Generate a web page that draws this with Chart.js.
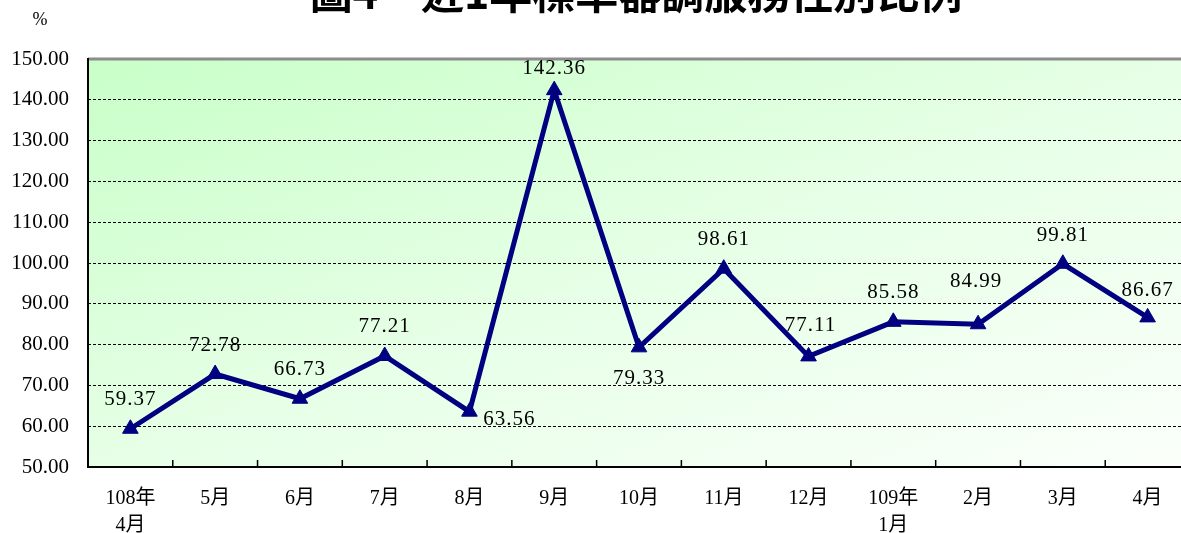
<!DOCTYPE html>
<html>
<head>
<meta charset="utf-8">
<script src="https://cdn.jsdelivr.net/npm/chart.js@4/dist/chart.umd.min.js"></script>
<style>
  html, body { margin: 0; padding: 0; background: #fff; overflow: hidden; }
  #wrap { position: relative; width: 1200px; height: 533px; }
</style>
</head>
<body>
<div id="wrap"><canvas id="grafico" width="1200" height="533"></canvas></div>
<script>
const titulo = "圖4　近1年標準器調服務性別比例";
const unidade = "%";
const categorias = [
  ["108年", "4月"], "5月", "6月", "7月", "8月", "9月", "10月",
  "11月", "12月", ["109年", "1月"], "2月", "3月", "4月"
];
const valores = [59.37, 72.78, 66.73, 77.21, 63.56, 142.36, 79.33, 98.61, 77.11, 85.58, 84.99, 99.81, 86.67];
const yMin = 50;
const yMax = 150;
const yPasso = 10;

// posição dos rótulos em relação ao ponto [dx, dy]
const rotuloOffset = [
  [0, -29], [0, -29], [0, -29], [0, -29], [40, 8], [0, -22], [0, 31],
  [0, -29], [2, -31], [0, -29], [-2, -43], [0, -28], [0, -27]
];

const fonte = "'Liberation Serif', 'Noto Sans CJK TC', serif";

const fundo = {
  id: "fundo",
  beforeDraw(chart) {
    const { ctx, chartArea: a } = chart;
    ctx.save();
    // degradê diagonal normalizado à área do gráfico
    ctx.translate(a.left, a.top);
    ctx.scale(a.right - a.left, a.bottom - a.top);
    const g = ctx.createLinearGradient(0, 0, 1, 1);
    g.addColorStop(0, "#c8ffc8");
    g.addColorStop(0.5, "#e6ffe6");
    g.addColorStop(1, "#fbfffb");
    ctx.fillStyle = g;
    ctx.fillRect(0, 0, 1, 1);
    ctx.restore();
  },
  afterDraw(chart) {
    const { ctx, chartArea: a, scales } = chart;
    ctx.save();
    // borda superior cinza
    ctx.strokeStyle = "#8c8c8c";
    ctx.lineWidth = 3;
    ctx.beginPath();
    ctx.moveTo(a.left, a.top);
    ctx.lineTo(a.right, a.top);
    ctx.stroke();
    // eixos
    ctx.strokeStyle = "#000";
    ctx.lineWidth = 2;
    ctx.beginPath();
    ctx.moveTo(a.left, a.top - 1);
    ctx.lineTo(a.left, a.bottom);
    ctx.lineTo(a.right, a.bottom);
    ctx.stroke();
    // marcas do eixo x entre categorias
    const x = scales.x;
    const passo = x.getPixelForValue(1) - x.getPixelForValue(0);
    ctx.lineWidth = 1.5;
    ctx.beginPath();
    for (let i = 1; i < categorias.length; i++) {
      const px = x.getPixelForValue(i) - passo / 2;
      ctx.moveTo(px, a.bottom);
      ctx.lineTo(px, a.bottom - 7);
    }
    ctx.stroke();
    // título (cortado no topo) e unidade
    ctx.fillStyle = "#000";
    ctx.font = "bold 43px 'Noto Sans CJK TC', serif";
    ctx.textAlign = "center";
    ctx.textBaseline = "bottom";
    ctx.fillText(titulo, 636, 14);
    ctx.font = "18px " + fonte;
    ctx.fillText(unidade, 40, 29);
    // rótulos dos valores
    ctx.font = "21px " + fonte;
    ctx.letterSpacing = "1px";
    ctx.textBaseline = "middle";
    const meta = chart.getDatasetMeta(0);
    meta.data.forEach((p, i) => {
      const off = rotuloOffset[i];
      ctx.fillText(valores[i].toFixed(2), p.x + off[0], p.y + off[1]);
    });
    ctx.restore();
  }
};

new Chart(document.getElementById("grafico"), {
  type: "line",
  data: {
    labels: categorias,
    datasets: [
      {
        label: titulo,
        data: valores,
        borderColor: "#000080",
        backgroundColor: "#000080",
        borderWidth: 5,
        tension: 0,
        pointStyle: "triangle",
        pointRadius: 9,
        pointBackgroundColor: "#000080",
        pointBorderColor: "#000080",
        pointBorderWidth: 1,
      },
    ],
  },
  options: {
    responsive: false,
    devicePixelRatio: 1,
    animation: false,
    layout: { padding: { top: 59, right: 7, left: 0, bottom: 0 } },
    plugins: {
      legend: { display: false },
      tooltip: { enabled: false },
    },
    scales: {
      x: {
        offset: true,
        grid: { display: false, drawTicks: false },
        border: { display: false },
        afterFit: (s) => { s.height = 66; },
        ticks: {
          color: "#000",
          padding: 18,
          maxRotation: 0,
          autoSkip: false,
          font: { family: fonte, size: 20, lineHeight: 1.35 },
        },
      },
      y: {
        min: yMin,
        max: yMax,
        afterFit: (s) => { s.width = 88; },
        grid: {
          color: "#000",
          lineWidth: (c) => (c.tick.value === yMin || c.tick.value === yMax ? 0 : 1),
          drawTicks: false,
        },
        border: { display: false, dash: [3, 2] },
        ticks: {
          stepSize: yPasso,
          color: "#000",
          padding: 19,
          font: { family: fonte, size: 21 },
          callback: (v) => v.toFixed(2),
        },
      },
    },
  },
  plugins: [fundo],
});
</script>
</body>
</html>
